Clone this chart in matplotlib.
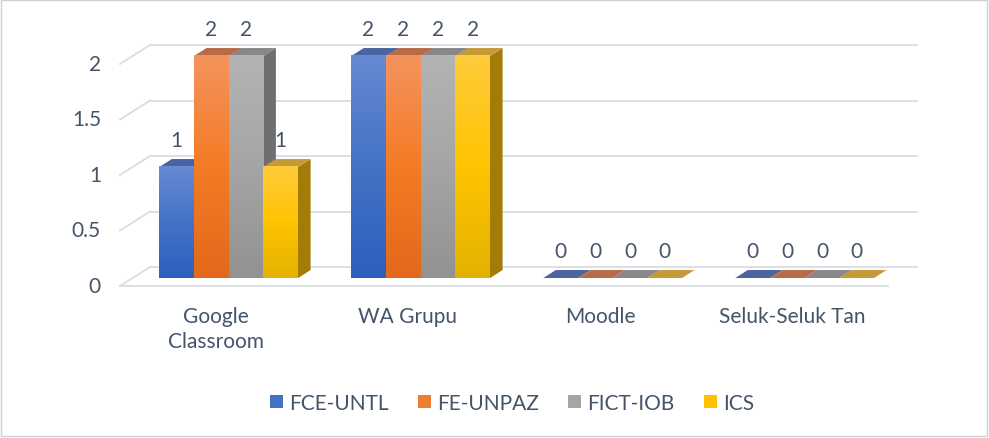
import matplotlib
matplotlib.use('Agg')
import matplotlib.pyplot as plt
import numpy as np
from matplotlib.patches import Polygon, Rectangle, Patch
from matplotlib.colors import LinearSegmentedColormap

categories = ['Google\nClassroom', 'WA Grupu', 'Moodle', 'Seluk-Seluk Tan']
series = ['FCE-UNTL', 'FE-UNPAZ', 'FICT-IOB', 'ICS']
fce_untl = [1, 2, 0, 0]
fe_unpaz = [2, 2, 0, 0]
fict_iob = [2, 2, 0, 0]
ics = [1, 2, 0, 0]
values = [fce_untl, fe_unpaz, fict_iob, ics]
y_ticks = [0, 0.5, 1, 1.5, 2]
y_tick_labels = ['0', '0.5', '1', '1.5', '2']

# colours: (bottom, mid, top) of front gradient, top face, side face
front_cols = [('#2d5fbf', '#4472c4', '#668ad3'),
              ('#e2691b', '#f47b25', '#f4935e'),
              ('#929292', '#a5a5a5', '#b4b4b4'),
              ('#e3b200', '#ffc400', '#ffcb3c')]
top_cols = ['#4a64a2', '#b86b45', '#888888', '#c49a38']
side_cols = ['#2f4f8f', '#a55320', '#6f6f6f', '#a27c06']
legend_cols = ['#4472c4', '#ed7d31', '#a5a5a5', '#ffc000']
text_col = '#44546a'
grid_col = '#d9dce3'
FS = 15

plt.rcParams['font.family'] = ['Lato', 'DejaVu Sans']

W, H = 989, 439
fig = plt.figure(figsize=(W / 100, H / 100), dpi=100)
ax = fig.add_axes([0, 0, 1, 1])
PX_X, X0 = 192.0, 216.0
PX_Y, Y0 = 111.0, 287.0
xlim = (-X0 / PX_X, (W - X0) / PX_X)
ylim = ((Y0 - H) / PX_Y, Y0 / PX_Y)
ax.axis('off')

DX, DY = 30 / PX_X, 19 / PX_Y
f0, f1 = 0.42, 0.84
BW = 34.7 / PX_X
n_cat = len(categories)
left, right = -0.5, n_cat - 0.5

# gridlines (back wall) and left diagonals
for v in y_ticks:
    ax.plot([left + DX, right + DX], [v + DY, v + DY], color=grid_col, lw=1.3, zorder=1,
            solid_capstyle='butt')
    ax.plot([left, left + DX], [v, v + DY], color=grid_col, lw=1.3, zorder=1)
ax.plot([left, right], [0, 0], color=grid_col, lw=1.3, zorder=1)

# tick labels
for v, lab in zip(y_ticks, y_tick_labels):
    ax.text((101 - X0) / PX_X, v, lab, ha='right', va='center', fontsize=FS, color=text_col)

# category labels
for i, c in enumerate(categories):
    ax.text(i, -(307 - Y0) / PX_Y, c, ha='center', va='top', fontsize=FS, color=text_col,
            linespacing=1.3)

bx, by = f0 * DX, f0 * DY
ddx, ddy = (f1 - f0) * DX, (f1 - f0) * DY
z = 2
for i in range(n_cat):
    for j in range(len(series)):
        v = values[j][i]
        xl = i + (j - 2) * BW + bx
        b = by
        side = Polygon([(xl + BW, b), (xl + BW, b + v), (xl + BW + ddx, b + v + ddy),
                        (xl + BW + ddx, b + ddy)], closed=True, facecolor=side_cols[j],
                       edgecolor='none', zorder=z)
        ax.add_patch(side)
        top = Polygon([(xl, b + v), (xl + BW, b + v), (xl + BW + ddx, b + v + ddy),
                       (xl + ddx, b + v + ddy)], closed=True, facecolor=top_cols[j],
                      edgecolor='none', zorder=z + 0.1)
        ax.add_patch(top)
        if v > 0:
            cmap = LinearSegmentedColormap.from_list('g', list(front_cols[j]))
            grad = np.linspace(0, 1, 200).reshape(-1, 1)
            ax.imshow(grad, extent=[xl, xl + BW, b, b + v], origin='lower', aspect='auto',
                      cmap=cmap, zorder=z + 0.2, interpolation='bilinear')
        ax.text(xl + BW / 2, b + v + 27 / PX_Y, str(v), ha='center', va='center',
                fontsize=FS, color=text_col, zorder=z + 0.3)
        z += 1

ax.set_xlim(*xlim)
ax.set_ylim(*ylim)

handles = [Patch(facecolor=c, edgecolor='none') for c in legend_cols]
fig.legend(handles, series, loc='center', bbox_to_anchor=(512 / W, 1 - 404 / H), ncol=4,
           frameon=False, handlelength=0.62, handleheight=0.62, columnspacing=1.4,
           handletextpad=0.3, fontsize=FS, labelcolor=text_col)

fig.patches.append(Rectangle((0.001, 0.004), 0.997, 0.994, transform=fig.transFigure,
                             fill=False, edgecolor='#d0d0d0', lw=1))

fig.savefig('out.png', dpi=100)
